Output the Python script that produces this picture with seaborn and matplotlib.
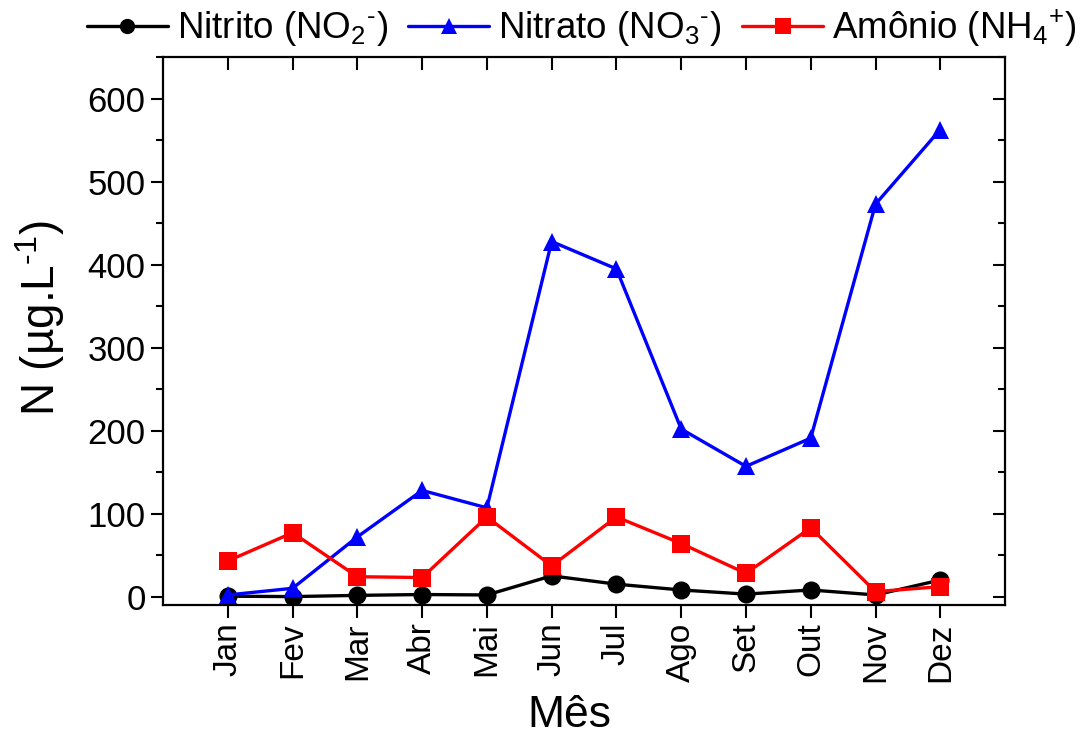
import matplotlib
matplotlib.use("Agg")
import matplotlib.pyplot as plt
from matplotlib.ticker import MultipleLocator
import seaborn as sns
import pandas as pd

months = ["Jan", "Fev", "Mar", "Abr", "Mai", "Jun", "Jul", "Ago", "Set", "Out", "Nov", "Dez"]
nitrito = [0.5, 0, 1.5, 2.5, 2, 25, 15, 8, 3, 8, 2, 20]
nitrato = [2, 10, 72, 128, 107, 428, 395, 202, 157, 191, 473, 563]
amonio = [43, 77, 24, 23, 96, 37, 96, 64, 28, 83, 6, 12]

series_names = ["Nitrito (NO$_2$$^{\\text{-}}$)", "Nitrato (NO$_3$$^{\\text{-}}$)", "Amônio (NH$_4$$^{+}$)"]
colors = ["black", "blue", "red"]
markers = ["o", "^", "s"]

sns.set_theme(style="ticks")
plt.rcParams["font.family"] = ["Liberation Sans", "DejaVu Sans"]
plt.rcParams["mathtext.fontset"] = "custom"
plt.rcParams["mathtext.rm"] = "Liberation Sans"
plt.rcParams["mathtext.it"] = "Liberation Sans:italic"
for key in ["text.color", "axes.labelcolor", "xtick.color", "ytick.color", "axes.edgecolor"]:
    plt.rcParams[key] = "black"

rows = []
for name, vals in zip(series_names, [nitrito, nitrato, amonio]):
    for i, v in enumerate(vals):
        rows.append({"idx": i, "valor": v, "serie": name})
df = pd.DataFrame(rows)

fig = plt.figure(figsize=(10.87, 7.35), dpi=100)
ax = fig.add_axes([0.150, 0.177, 0.7746, 0.745])

sns.lineplot(data=df, x="idx", y="valor", hue="serie", style="serie",
             palette=dict(zip(series_names, colors)),
             markers=dict(zip(series_names, markers)),
             dashes=False, linewidth=2.4, markersize=13,
             markeredgewidth=0, ax=ax, legend=False)

ax.set_xlim(-1, 12)
ax.set_ylim(-10, 650)
ax.set_xticks(range(len(months)))
ax.set_xticklabels(months, rotation=90, fontsize=24)
ax.yaxis.set_major_locator(MultipleLocator(100))
ax.yaxis.set_minor_locator(MultipleLocator(50))
ax.tick_params(axis="y", labelsize=25)
ax.tick_params(axis="both", which="major", length=9, width=1.5, color="black")
ax.tick_params(axis="y", which="minor", length=5, width=1.5, color="black")
ax.tick_params(axis="x", top=False)
ax.tick_params(axis="y", which="both", right=False)

for side in ["top", "right"]:
    ax.spines[side].set_visible(True)
for sp in ax.spines.values():
    sp.set_linewidth(1.6)
    sp.set_color("black")

# inward ticks on the top and right frame
sec_x = ax.secondary_xaxis("top")
sec_x.set_xticks(range(len(months)))
sec_x.tick_params(direction="in", length=9, width=1.5, labeltop=False)
sec_y = ax.secondary_yaxis("right")
sec_y.yaxis.set_major_locator(MultipleLocator(100))
sec_y.yaxis.set_minor_locator(MultipleLocator(50))
sec_y.tick_params(direction="in", which="major", length=9, width=1.5, labelright=False)
sec_y.tick_params(direction="in", which="minor", length=5, width=1.5)

ax.set_xlabel("")
ax.set_ylabel("")
fig.text(0.524, 0.027, "Mês", fontsize=32, ha="center", va="center")
fig.text(0.037, 0.567, "N (µg.L$^{\\text{-1}}$)", fontsize=33, ha="center", va="center",
         rotation=90)

handles = [plt.Line2D([], [], color=c, marker=m, linewidth=2.4, markersize=11, markeredgewidth=0)
           for c, m in zip(colors, markers)]
fig.legend(handles, series_names, loc="upper center", bbox_to_anchor=(0.535, 1.035),
           ncol=3, frameon=False, fontsize=26.5, handlelength=2.2, columnspacing=0.55,
           handletextpad=0.25)

fig.savefig("out.png", dpi=100)
